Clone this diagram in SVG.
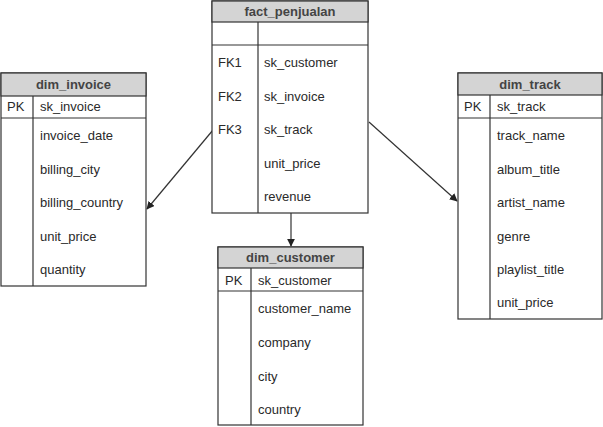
<svg xmlns="http://www.w3.org/2000/svg" width="603" height="427" viewBox="0 0 603 427">
<defs>
<style>
.box{fill:#fff;stroke:#333;stroke-width:1.2}
.hdr{fill:#d4d4d4;stroke:#333;stroke-width:1.2}
.ln{stroke:#333;stroke-width:1.2;fill:none}
.t{font-family:"Liberation Sans",Arial,sans-serif;font-size:13px;fill:#2a2a2a}
.h{font-family:"Liberation Sans",Arial,sans-serif;font-size:13px;font-weight:bold;fill:#444;text-anchor:middle}
.c{stroke:#333;stroke-width:1.2;fill:none;marker-end:url(#ah)}
</style>
<marker id="ah" viewBox="0 0 10 10" refX="9" refY="5" markerWidth="8" markerHeight="8" markerUnits="userSpaceOnUse" orient="auto">
<path d="M0,0 L10,5 L0,10 z" fill="#222"/>
</marker>
</defs>
<rect width="603" height="427" fill="#fff"/>
<g id="connectors">
<line class="c" x1="291" y1="213" x2="291" y2="246"/>
<line class="c" x1="213" y1="130" x2="147" y2="209"/>
<line class="c" x1="369" y1="122" x2="457" y2="201"/>
</g>
<g id="fact_penjualan">
<rect class="box" x="212" y="1" width="156" height="212"/>
<rect class="hdr" x="212" y="1" width="156" height="21"/>
<line class="ln" x1="212" y1="45" x2="368" y2="45"/>
<line class="ln" x1="258" y1="22" x2="258" y2="213"/>
<text class="h" x="290" y="16">fact_penjualan</text>
<text class="t" x="218" y="67">FK1</text>
<text class="t" x="218" y="101">FK2</text>
<text class="t" x="218" y="134">FK3</text>
<text class="t" x="264" y="67">sk_customer</text>
<text class="t" x="264" y="101">sk_invoice</text>
<text class="t" x="264" y="134">sk_track</text>
<text class="t" x="264" y="168">unit_price</text>
<text class="t" x="264" y="201">revenue</text>
</g>
<g id="dim_invoice">
<rect class="box" x="1" y="73" width="145" height="213"/>
<rect class="hdr" x="1" y="73" width="145" height="23"/>
<line class="ln" x1="1" y1="118" x2="146" y2="118"/>
<line class="ln" x1="33" y1="96" x2="33" y2="286"/>
<text class="h" x="73.5" y="89">dim_invoice</text>
<text class="t" x="7" y="111">PK</text>
<text class="t" x="40" y="111">sk_invoice</text>
<text class="t" x="40" y="140">invoice_date</text>
<text class="t" x="40" y="174">billing_city</text>
<text class="t" x="40" y="207">billing_country</text>
<text class="t" x="40" y="241">unit_price</text>
<text class="t" x="40" y="274">quantity</text>
</g>
<g id="dim_track">
<rect class="box" x="458" y="73" width="144" height="246"/>
<rect class="hdr" x="458" y="73" width="144" height="22"/>
<line class="ln" x1="458" y1="118" x2="602" y2="118"/>
<line class="ln" x1="490" y1="95" x2="490" y2="319"/>
<text class="h" x="530" y="89">dim_track</text>
<text class="t" x="464" y="111">PK</text>
<text class="t" x="497" y="111">sk_track</text>
<text class="t" x="497" y="140">track_name</text>
<text class="t" x="497" y="174">album_title</text>
<text class="t" x="497" y="207">artist_name</text>
<text class="t" x="497" y="241">genre</text>
<text class="t" x="497" y="274">playlist_title</text>
<text class="t" x="497" y="307">unit_price</text>
</g>
<g id="dim_customer">
<rect class="box" x="218" y="247" width="145" height="178"/>
<rect class="hdr" x="218" y="247" width="145" height="21"/>
<line class="ln" x1="218" y1="291" x2="363" y2="291"/>
<line class="ln" x1="251" y1="268" x2="251" y2="425"/>
<text class="h" x="290.5" y="262">dim_customer</text>
<text class="t" x="225" y="285">PK</text>
<text class="t" x="258" y="285">sk_customer</text>
<text class="t" x="258" y="313">customer_name</text>
<text class="t" x="258" y="347">company</text>
<text class="t" x="258" y="381">city</text>
<text class="t" x="258" y="414">country</text>
</g>
</svg>
